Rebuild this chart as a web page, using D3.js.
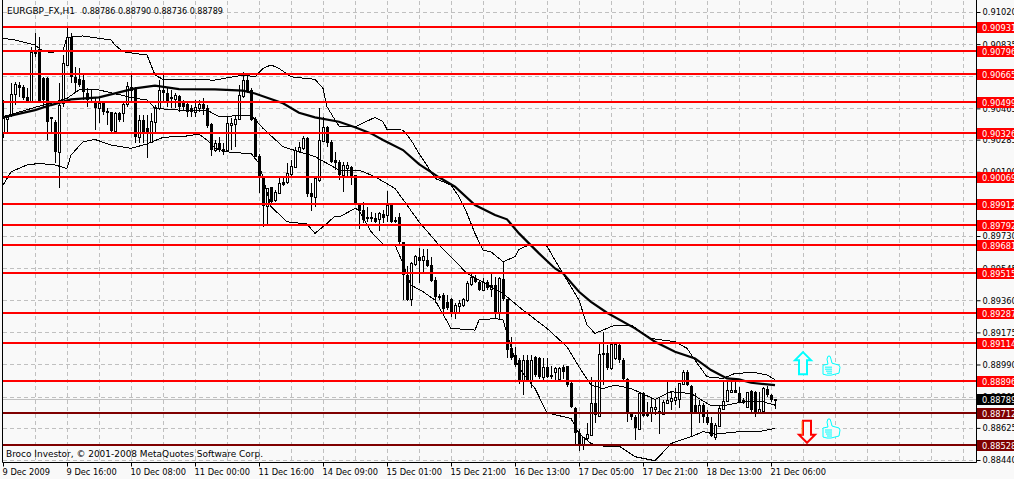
<!DOCTYPE html>
<html>
<head>
<meta charset="utf-8">
<script src="https://cdn.jsdelivr.net/npm/d3@7"></script>
<style>
html, body { margin: 0; padding: 0; background: #f9f9f9; overflow: hidden; }
text { font-family: "DejaVu Sans Condensed", "DejaVu Sans", sans-serif; font-stretch: condensed; font-size: 9.2px; fill: #000; }
</style>
</head>
<body>
<div id="chart"></div>
<script>
var width = 1014;
var height = 479;

var opens = [0.90321,0.90405,0.90427,0.90546,0.90599,0.90586,0.90528,0.90503,0.90782,0.90805,
0.90638,0.90638,0.90417,0.90388,0.90215,0.90494,0.90715,0.90878,0.90644,0.90632,
0.90628,0.90555,0.90528,0.90503,0.90465,0.90494,0.90450,0.90442,0.90336,0.90440,
0.90436,0.90490,0.90590,0.90580,0.90302,0.90398,0.90350,0.90273,0.90388,0.90465,
0.90571,0.90555,0.90528,0.90517,0.90536,0.90498,0.90490,0.90465,0.90446,0.90465,
0.90490,0.90465,0.90375,0.90225,0.90263,0.90229,0.90225,0.90369,0.90375,0.90402,
0.90536,0.90628,0.90571,0.90402,0.90190,0.90066,0.89902,0.90010,0.89937,0.89979,
0.90043,0.90043,0.90087,0.90129,0.90221,0.90235,0.90296,0.89979,0.89952,0.90052,
0.90279,0.90359,0.90273,0.90167,0.90154,0.90081,0.90119,0.90125,0.90081,0.89908,
0.89879,0.89837,0.89841,0.89831,0.89826,0.89854,0.89851,0.89908,0.89822,0.89841,
0.89697,0.89505,0.89365,0.89568,0.89611,0.89591,0.89591,0.89563,0.89476,0.89384,
0.89390,0.89351,0.89365,0.89284,0.89326,0.89332,0.89361,0.89453,0.89486,0.89467,
0.89419,0.89467,0.89424,0.89447,0.89294,0.89482,0.89365,0.89083,0.89044,0.89015,
0.88900,0.89015,0.88900,0.89031,0.89025,0.88916,0.88977,0.88929,0.88948,0.88904,
0.88977,0.88981,0.88881,0.88741,0.88593,0.88532,0.88564,0.88583,0.88766,0.88693,
0.89054,0.89054,0.88967,0.89025,0.89102,0.89015,0.88904,0.88708,0.88685,0.88616,
0.88823,0.88718,0.88712,0.88731,0.88724,0.88704,0.88770,0.88781,0.88785,0.88789,
0.88877,0.88948,0.88866,0.88756,0.88712,0.88756,0.88685,0.88654,0.88574,0.88635,
0.88733,0.88781,0.88833,0.88846,0.88823,0.88785,0.88747,0.88839,0.88833,0.88718,
0.88724,0.88848,0.88814,0.88786];

var highs = [0.90513,0.90427,0.90609,0.90619,0.90619,0.90599,0.90580,0.90820,0.90897,0.90874,
0.90647,0.90647,0.90417,0.90398,0.90609,0.90772,0.90935,0.90897,0.90705,0.90695,
0.90657,0.90580,0.90574,0.90532,0.90523,0.90503,0.90465,0.90446,0.90446,0.90446,
0.90503,0.90619,0.90663,0.90590,0.90427,0.90427,0.90427,0.90436,0.90484,0.90628,
0.90657,0.90580,0.90571,0.90551,0.90542,0.90513,0.90494,0.90484,0.90513,0.90513,
0.90523,0.90484,0.90379,0.90283,0.90302,0.90263,0.90417,0.90407,0.90427,0.90599,
0.90676,0.90657,0.90580,0.90417,0.90202,0.90071,0.90004,0.90014,0.89995,0.90062,
0.90062,0.90152,0.90167,0.90244,0.90273,0.90306,0.90302,0.90033,0.90062,0.90465,
0.90417,0.90363,0.90283,0.90215,0.90167,0.90158,0.90158,0.90133,0.90081,0.89918,
0.89927,0.89899,0.89870,0.89860,0.89870,0.89879,0.89989,0.89918,0.89841,0.89860,
0.89697,0.89559,0.89582,0.89620,0.89659,0.89653,0.89653,0.89611,0.89495,0.89396,
0.89399,0.89390,0.89371,0.89342,0.89361,0.89371,0.89472,0.89511,0.89505,0.89476,
0.89486,0.89476,0.89511,0.89495,0.89495,0.89582,0.89365,0.89150,0.89092,0.89025,
0.89044,0.89044,0.89044,0.89038,0.89035,0.89025,0.89025,0.88981,0.88973,0.88977,
0.88987,0.88981,0.88891,0.88747,0.88616,0.88574,0.88651,0.88919,0.88891,0.89121,
0.89179,0.89102,0.89111,0.89111,0.89111,0.89025,0.88910,0.88718,0.88699,0.88827,
0.88833,0.88775,0.88795,0.88785,0.88800,0.88785,0.88900,0.88833,0.88852,0.88885,
0.88958,0.88958,0.88871,0.88823,0.88785,0.88766,0.88727,0.88689,0.88651,0.88756,
0.88896,0.88896,0.88891,0.88891,0.88858,0.88795,0.88833,0.88843,0.88839,0.88833,
0.88858,0.88866,0.88818,0.88790];

var lows = [0.90292,0.90331,0.90417,0.90484,0.90532,0.90513,0.90494,0.90494,0.90763,0.90494,
0.90475,0.90283,0.90321,0.90148,0.90008,0.90475,0.90715,0.90609,0.90561,0.90590,
0.90513,0.90475,0.90494,0.90340,0.90379,0.90427,0.90369,0.90331,0.90331,0.90388,
0.90388,0.90475,0.90494,0.90263,0.90263,0.90263,0.90177,0.90263,0.90331,0.90455,
0.90494,0.90475,0.90465,0.90465,0.90446,0.90455,0.90417,0.90417,0.90417,0.90446,
0.90427,0.90350,0.90192,0.90215,0.90215,0.90196,0.90215,0.90225,0.90244,0.90398,
0.90523,0.90551,0.90394,0.90183,0.89979,0.89783,0.89799,0.89918,0.89927,0.89975,
0.90018,0.90029,0.90071,0.90119,0.90206,0.90225,0.89956,0.89876,0.89899,0.90043,
0.90273,0.90244,0.90148,0.90110,0.90052,0.89985,0.90062,0.90023,0.89908,0.89768,
0.89803,0.89812,0.89812,0.89803,0.89760,0.89803,0.89812,0.89803,0.89803,0.89678,
0.89361,0.89357,0.89326,0.89557,0.89461,0.89515,0.89553,0.89467,0.89346,0.89361,
0.89294,0.89303,0.89265,0.89250,0.89284,0.89323,0.89351,0.89442,0.89461,0.89413,
0.89413,0.89419,0.89380,0.89250,0.89246,0.89357,0.89025,0.89015,0.88977,0.88877,
0.88814,0.88891,0.88852,0.88919,0.88904,0.88900,0.88910,0.88904,0.88900,0.88896,
0.88904,0.88862,0.88737,0.88526,0.88493,0.88497,0.88555,0.88583,0.88651,0.88689,
0.88871,0.88958,0.88958,0.89015,0.88996,0.88900,0.88660,0.88670,0.88555,0.88612,
0.88689,0.88689,0.88660,0.88699,0.88589,0.88697,0.88766,0.88727,0.88756,0.88737,
0.88871,0.88866,0.88574,0.88708,0.88651,0.88651,0.88641,0.88574,0.88558,0.88631,
0.88727,0.88775,0.88823,0.88823,0.88766,0.88762,0.88737,0.88708,0.88685,0.88704,
0.88718,0.88804,0.88775,0.88736];

var closes = [0.90407,0.90417,0.90546,0.90605,0.90580,0.90523,0.90503,0.90791,0.90791,0.90503,
0.90513,0.90388,0.90402,0.90215,0.90484,0.90724,0.90878,0.90644,0.90613,0.90599,
0.90561,0.90513,0.90517,0.90465,0.90494,0.90442,0.90436,0.90336,0.90436,0.90398,
0.90490,0.90596,0.90567,0.90302,0.90398,0.90325,0.90321,0.90394,0.90471,0.90571,
0.90551,0.90503,0.90517,0.90542,0.90475,0.90475,0.90446,0.90446,0.90471,0.90490,
0.90459,0.90363,0.90225,0.90263,0.90225,0.90215,0.90379,0.90382,0.90404,0.90542,
0.90628,0.90567,0.90398,0.90187,0.90071,0.89902,0.90004,0.89927,0.89985,0.90033,
0.90023,0.90091,0.90133,0.90225,0.90244,0.90296,0.89970,0.89952,0.90062,0.90283,
0.90359,0.90263,0.90158,0.90152,0.90081,0.90139,0.90139,0.90071,0.89914,0.89876,
0.89822,0.89826,0.89828,0.89808,0.89860,0.89831,0.89908,0.89812,0.89808,0.89697,
0.89505,0.89361,0.89572,0.89616,0.89588,0.89616,0.89559,0.89472,0.89376,0.89371,
0.89307,0.89313,0.89294,0.89332,0.89342,0.89365,0.89457,0.89495,0.89467,0.89419,
0.89467,0.89428,0.89447,0.89294,0.89486,0.89365,0.89073,0.89025,0.88987,0.88896,
0.89015,0.88900,0.89015,0.88929,0.88916,0.88977,0.88919,0.88919,0.88971,0.88967,
0.88948,0.88871,0.88743,0.88593,0.88526,0.88570,0.88589,0.88766,0.88699,0.89048,
0.89044,0.88967,0.89108,0.89108,0.89015,0.88904,0.88708,0.88685,0.88622,0.88823,
0.88693,0.88693,0.88743,0.88743,0.88704,0.88775,0.88785,0.88795,0.88800,0.88881,
0.88948,0.88871,0.88712,0.88712,0.88756,0.88685,0.88651,0.88578,0.88641,0.88737,
0.88781,0.88843,0.88846,0.88827,0.88775,0.88770,0.88829,0.88727,0.88718,0.88731,
0.88852,0.88814,0.88785,0.88789];

var upperBars = [0,3,8,10,12,15,16,20,27,28,30,36,37,38,40,53,60,63,65,67,69,72,78,80,81,83,84,88,93,95,96,100,102,104,107,108,112,114,116,118,120,122,125,128,129,132,136,138,141,143,144,146,148,153,157,162,168,171,173,176,180,183,188,191,193];
var upperVals = [0.90868,0.90859,0.90830,0.90795,0.90786,0.90801,0.90874,0.90882,0.90859,0.90830,0.90791,0.90772,0.90715,0.90657,0.90632,0.90628,0.90657,0.90647,0.90695,0.90715,0.90695,0.90647,0.90632,0.90580,0.90475,0.90398,0.90363,0.90359,0.90413,0.90388,0.90344,0.90340,0.90283,0.90206,0.90100,0.90062,0.90023,0.89956,0.89860,0.89745,0.89649,0.89639,0.89582,0.89611,0.89653,0.89684,0.89672,0.89591,0.89476,0.89399,0.89361,0.89217,0.89169,0.89217,0.89217,0.89140,0.89121,0.89083,0.89015,0.88919,0.88910,0.88939,0.88944,0.88929,0.88904];

var middleBars = [0,10,12,16,19,24,33,36,38,44,51,54,62,65,70,78,84,89,93,98,101,104,109,116,125,130,136,141,144,147,150,153,157,163,167,172,177,180,185,190,193];
var middleVals = [0.90417,0.90484,0.90494,0.90523,0.90571,0.90571,0.90523,0.90513,0.90465,0.90455,0.90455,0.90417,0.90427,0.90350,0.90244,0.90187,0.90110,0.90110,0.90071,0.90004,0.89908,0.89812,0.89678,0.89515,0.89399,0.89303,0.89198,0.89092,0.88977,0.88871,0.88852,0.88871,0.88852,0.88789,0.88833,0.88823,0.88752,0.88752,0.88775,0.88775,0.88756];

var lowerBars = [0,2,6,9,13,16,17,20,23,27,32,36,40,46,49,51,53,57,62,64,67,71,76,78,81,83,84,85,88,89,92,95,98,100,102,105,108,112,118,119,123,125,128,130,133,136,142,144,147,150,154,158,163,164,167,172,175,178,184,189,193];
var lowerVals = [0.90023,0.90100,0.90139,0.90148,0.90139,0.90119,0.90196,0.90273,0.90286,0.90254,0.90235,0.90260,0.90298,0.90306,0.90317,0.90283,0.90235,0.90210,0.90206,0.90148,0.89899,0.89812,0.89799,0.89745,0.89803,0.89845,0.89841,0.89851,0.89889,0.89879,0.89755,0.89684,0.89678,0.89572,0.89447,0.89409,0.89361,0.89198,0.89188,0.89246,0.89255,0.89246,0.89015,0.88939,0.88852,0.88712,0.88679,0.88593,0.88535,0.88520,0.88520,0.88459,0.88436,0.88459,0.88535,0.88574,0.88603,0.88589,0.88603,0.88603,0.88622];

var maBars = [0,8,12,17,24,28,33,38,44,53,60,63,70,74,78,84,88,92,95,100,104,109,113,118,123,126,129,134,138,140,144,147,151,158,163,168,173,177,181,184,187,193];
var maVals = [0.90413,0.90455,0.90484,0.90517,0.90528,0.90551,0.90580,0.90596,0.90576,0.90574,0.90567,0.90551,0.90494,0.90440,0.90413,0.90388,0.90356,0.90321,0.90283,0.90225,0.90144,0.90068,0.90014,0.89908,0.89851,0.89826,0.89745,0.89630,0.89543,0.89515,0.89409,0.89351,0.89288,0.89198,0.89121,0.89063,0.89025,0.88958,0.88910,0.88904,0.88885,0.88871];

var redLevels = [0.90931,0.90796,0.90665,0.90499,0.90326,0.90069,0.89912,0.89792,0.89681,0.89515,0.89287,0.89114,0.88896];
var darkLevels = [0.88712,0.88528];
var lastPrice = 0.88789;

var priceTicks = [0.91020,0.90835,0.90650,0.90465,0.90285,0.90100,0.89915,0.89730,0.89545,0.89360,0.89175,0.88990,0.88805,0.88625,0.88440];
var dateBars = [0,16,32,48,64,80,96,112,128,144,160,176,192];
var dateLabels = ["9 Dec 2009","9 Dec 16:00","10 Dec 08:00","11 Dec 00:00","11 Dec 16:00","14 Dec 09:00","15 Dec 01:00","15 Dec 21:00","16 Dec 13:00","17 Dec 05:00","17 Dec 21:00","18 Dec 13:00","21 Dec 06:00"];

var titleSymbol = "EURGBP_FX,H1";
var titleQuotes = "0.88786 0.88790 0.88736 0.88789";
var copyText = "Broco Investor, \u00a9 2001-2008 MetaQuotes Software Corp.";

var left = 3, right = 976, bottom = 462;
var gridColor = "#c0c0c0";
var paper = "#f9f9f9";
var fontFamily = "'DejaVu Sans Condensed', 'DejaVu Sans', sans-serif";

var x = d3.scaleLinear().domain([0, 243.25]).range([left, right]);
var y = d3.scaleLinear().domain([0.8844, 0.9102]).range([460, 12]);
function px(i) { return Math.round(x(i)); }
function py(v) { return Math.round(y(v)); }

var svg = d3.select("#chart")
    .append("svg")
    .attr("width", width)
    .attr("height", height)
    .style("display", "block");

// grid
var gridBars = d3.range(8, 243, 8);
svg.append("g").selectAll("line")
    .data(gridBars)
    .enter().append("line")
    .attr("x1", function(d) { return px(d) + 0.5; })
    .attr("x2", function(d) { return px(d) + 0.5; })
    .attr("y1", 1)
    .attr("y2", bottom)
    .attr("stroke", gridColor)
    .attr("stroke-dasharray", "4,3");
svg.append("g").selectAll("line")
    .data(priceTicks)
    .enter().append("line")
    .attr("x1", left)
    .attr("x2", right)
    .attr("y1", function(d) { return py(d) + 0.5; })
    .attr("y2", function(d) { return py(d) + 0.5; })
    .attr("stroke", gridColor)
    .attr("stroke-dasharray", "4,3");

// bid line
svg.append("line")
    .attr("x1", left).attr("x2", right)
    .attr("y1", py(lastPrice) + 0.5).attr("y2", py(lastPrice) + 0.5)
    .attr("stroke", gridColor);

// candles
var bars = svg.append("g").attr("shape-rendering", "crispEdges");
var candle = bars.selectAll("g")
    .data(opens)
    .enter().append("g");

candle.append("rect")
    .attr("x", function(d, i) { return px(i); })
    .attr("width", 1)
    .attr("y", function(d, i) { return py(highs[i]); })
    .attr("height", function(d, i) { return Math.max(1, py(lows[i]) - py(highs[i])); })
    .attr("fill", "#000");

candle.append("rect")
    .attr("x", function(d, i) { return closes[i] >= d ? px(i) - 0.5 : px(i) - 1; })
    .attr("width", function(d, i) { return closes[i] >= d ? 2 : 3; })
    .attr("y", function(d, i) {
        return closes[i] >= d ? py(closes[i]) + 0.5 : py(d);
    })
    .attr("height", function(d, i) {
        var h = Math.abs(py(d) - py(closes[i]));
        return closes[i] >= d ? h : Math.max(1, h);
    })
    .attr("fill", function(d, i) { return closes[i] >= d ? "#fff" : "#000"; })
    .attr("stroke", function(d, i) { return closes[i] >= d ? "#000" : "none"; });

// indicators
var line = d3.line()
    .x(function(d) { return x(d[0]); })
    .y(function(d) { return y(d[1]); });

function drawLine(b, v, w, crisp) {
    svg.append("path")
        .attr("d", line(d3.zip(b, v)))
        .attr("fill", "none")
        .attr("stroke", "#000")
        .attr("stroke-width", w)
        .attr("shape-rendering", crisp ? "crispEdges" : "auto");
}
drawLine(upperBars, upperVals, 1, true);
drawLine(middleBars, middleVals, 1, true);
drawLine(lowerBars, lowerVals, 1, true);
drawLine(maBars, maVals, 2.2, false);

// support and resistance levels
function drawLevels(levels, color) {
    svg.append("g").attr("shape-rendering", "crispEdges").selectAll("rect")
        .data(levels)
        .enter().append("rect")
        .attr("x", left)
        .attr("width", right - left)
        .attr("y", function(d) { return py(d) - 1; })
        .attr("height", 2)
        .attr("fill", color);
}
drawLevels(redLevels, "#ff0000");
drawLevels(darkLevels, "#7f0000");

// arrows and hands
var upArrow = "M0,0 L8,8 L4,8 L4,22 L-4,22 L-4,8 L-8,8 Z";
var downArrow = "M-4,-22 L4,-22 L4,-8 L8,-8 L0,0 L-8,-8 L-4,-8 Z";
var hand = "M0,9 L5,8 L4,3 L5,0 L7,0 L8,3 L9,7 L16,9 L17,11 L16,17 L8,19 L4,19 L0,18 Z M2,11 L9,11 M2,13 L9,13 M3,15 L9,15 M4,17 L9,17";

svg.append("path")
    .attr("d", upArrow)
    .attr("transform", "translate(" + x(200) + "," + y(0.89061) + ")")
    .attr("fill", paper).attr("stroke", "#00ffff").attr("stroke-width", 2);
svg.append("path")
    .attr("d", downArrow)
    .attr("transform", "translate(" + x(201) + "," + y(0.88539) + ")")
    .attr("fill", paper).attr("stroke", "#ff0000").attr("stroke-width", 2);
svg.append("path")
    .attr("d", "M-5,-8 L-5,-22")
    .attr("transform", "translate(" + x(201) + "," + y(0.88539) + ")")
    .attr("fill", "none").attr("stroke", "#ff9933").attr("stroke-width", 1);
[0.89038, 0.88676].forEach(function(p) {
    svg.append("path")
        .attr("d", hand)
        .attr("transform", "translate(" + x(205) + "," + y(p) + ")")
        .attr("fill", paper).attr("stroke", "#00ffff").attr("stroke-width", 1);
});

// frame
svg.append("path")
    .attr("d", "M2.5,0 L2.5," + (bottom + 0.5) + " L" + (right + 0.5) + "," + (bottom + 0.5) + " L" + (right + 0.5) + ",0")
    .attr("fill", "none").attr("stroke", "#000");

// axes
var yAxis = d3.axisRight(y)
    .tickValues(priceTicks)
    .tickFormat(d3.format(".5f"))
    .tickSize(4)
    .tickPadding(2);
var gy = svg.append("g")
    .attr("transform", "translate(" + (right + 0.5) + ",0)")
    .call(yAxis);
gy.select(".domain").remove();
gy.selectAll("text").style("font-size", "9.2px").style("font-family", fontFamily);

var xAxis = d3.axisBottom(x)
    .tickValues(dateBars)
    .tickFormat(function(d, i) { return dateLabels[i]; })
    .tickSize(4);
var gx = svg.append("g")
    .attr("transform", "translate(0," + (bottom + 0.5) + ")")
    .call(xAxis);
gx.select(".domain").remove();
gx.selectAll("text")
    .attr("text-anchor", "start")
    .attr("x", -1)
    .attr("y", 6)
    .style("font-size", "9.2px")
    .style("font-family", fontFamily);

// price tags on the axis
function drawTags(levels, color) {
    var tag = svg.append("g").selectAll("g")
        .data(levels)
        .enter().append("g")
        .attr("transform", function(d) { return "translate(" + (right + 1) + "," + py(d) + ")"; });
    tag.append("rect")
        .attr("x", 0).attr("y", -5)
        .attr("width", width - right - 1).attr("height", 11)
        .attr("fill", color)
        .attr("shape-rendering", "crispEdges");
    tag.append("text")
        .attr("x", 5).attr("y", 4)
        .style("fill", "#fff")
        .text(function(d) { return d3.format(".5f")(d); });
}
drawTags(redLevels, "#ff0000");
drawTags(darkLevels, "#7f0000");
drawTags([lastPrice], "#000000");

svg.append("text").attr("x", 7).attr("y", 14)
    .attr("textLength", 68).attr("lengthAdjust", "spacingAndGlyphs").text(titleSymbol);
svg.append("text").attr("x", 82).attr("y", 14)
    .attr("textLength", 141).attr("lengthAdjust", "spacingAndGlyphs").text(titleQuotes);
svg.append("text").attr("x", 6).attr("y", 457)
    .attr("textLength", 257).attr("lengthAdjust", "spacingAndGlyphs").text(copyText);
</script>
</body>
</html>
